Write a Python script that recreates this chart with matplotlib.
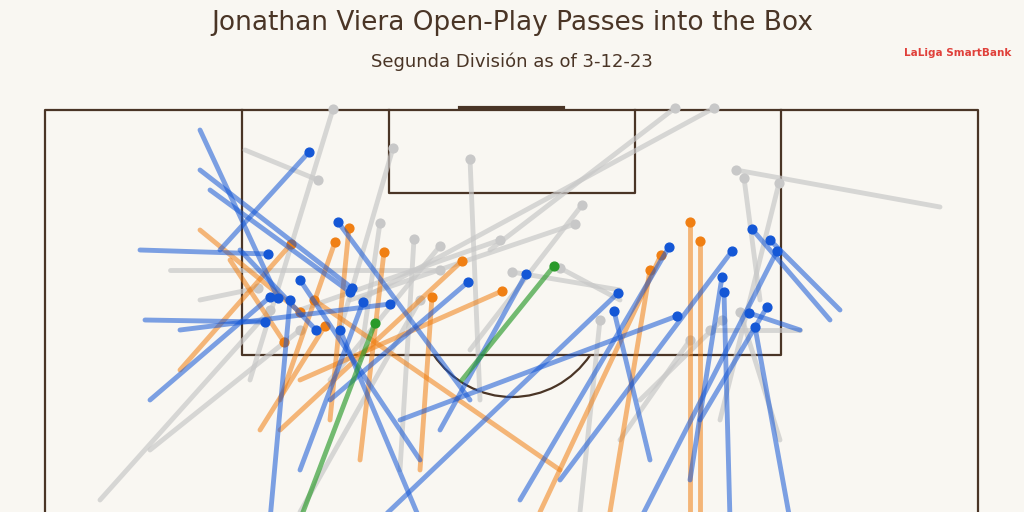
import matplotlib
matplotlib.use("Agg")
import matplotlib.pyplot as plt
from matplotlib.patches import Arc

# Pass data in image-pixel pitch units: (start_x, start_y, end_x, end_y)
blue = [(220,250,309,152),(470,400,338,222),(140,250,268,254),(150,400,270,297),
        (200,130,278,298),(270,520,290,300),(240,250,316,330),(420,520,340,330),
        (210,190,350,292),(300,470,363,302),(180,330,390,304),(330,400,468,282),
        (440,430,526,274),(380,520,618,293),(650,460,614,311),(520,500,669,247),
        (400,420,677,316),(560,480,732,251),(830,320,752,229),(640,520,777,251),
        (690,480,722,277),(730,520,724,292),(800,330,749,313),(790,520,755,327),
        (700,420,767,307),(145,320,265,322),(200,170,352,288),(420,460,300,280),
        (840,310,770,240)]
orange = [(180,370,291,244),(280,400,335,242),(330,420,349,228),(360,460,384,252),
          (280,430,462,261),(420,470,432,297),(300,380,502,291),(690,512,690,222),
          (700,512,700,241),(540,512,661,255),(200,230,300,312),(560,470,314,300),
          (260,430,325,326),(230,260,284,342),(610,512,650,270)]
grey = [(250,380,333,109),(245,150,318,180),(340,330,393,148),(480,400,470,159),
        (360,360,380,223),(400,470,414,239),(330,380,440,246),(300,310,500,240),
        (350,300,575,224),(470,350,582,205),(490,250,675,108),(360,300,714,108),
        (940,207,736,170),(760,300,744,178),(720,420,779,183),(620,290,512,272),
        (200,300,258,288),(620,440,690,340),(800,330,710,330),(640,400,722,320),
        (580,512,600,320),(780,440,740,312),(100,500,270,310),(620,300,560,268),
        (170,270,440,270),(150,450,300,330),(300,512,420,300)]
green = [(462,380,554,266),(300,520,375,323)]

BG = "#f9f7f2"
LINE = "#4a3526"
fig = plt.figure(figsize=(10.24, 5.12), dpi=100, facecolor=BG)
ax = fig.add_axes([0, 0, 1, 1])
ax.set_facecolor(BG)
ax.set_xlim(0, 1024)
ax.set_ylim(512, 0)
ax.axis("off")

# Pitch
lw = 1.6
ax.plot([45, 45, 978, 978], [520, 110, 110, 520], color=LINE, lw=lw, zorder=1)
ax.plot([242, 242, 781, 781], [110, 355, 355, 110], color=LINE, lw=lw, zorder=1)
ax.plot([389, 389, 635, 635], [110, 193, 193, 110], color=LINE, lw=lw, zorder=1)
ax.plot([460, 563], [108, 108], color=LINE, lw=3, zorder=1)
ax.add_patch(Arc((512, 300), 190, 194, theta1=35, theta2=145, color=LINE, lw=lw, zorder=1))

def draw(passes, color, alpha, z):
    for sx, sy, ex, ey in passes:
        ax.plot([sx, ex], [sy, ey], color=color, lw=3.5, alpha=alpha,
                solid_capstyle="round", zorder=z)
        ax.scatter([ex], [ey], s=40, color=color, zorder=z + 0.5)

draw(grey, "#c8c8c8", 0.7, 2)
draw(orange, "#f07f13", 0.55, 3)
draw(blue, "#1457d6", 0.55, 4)
draw(green, "#2a9a2a", 0.65, 5)

fig.text(0.5, 0.955, "Jonathan Viera Open-Play Passes into the Box", ha="center",
         va="center", fontsize=19, color=LINE)
fig.text(0.5, 0.88, "Segunda División as of 3-12-23", ha="center", va="center",
         fontsize=13, color=LINE)
fig.text(0.935, 0.897, "LaLiga SmartBank", ha="center", va="center", fontsize=7.5,
         color="#e0403a", fontweight="bold")
fig.savefig("out.png", dpi=100, facecolor=BG)
